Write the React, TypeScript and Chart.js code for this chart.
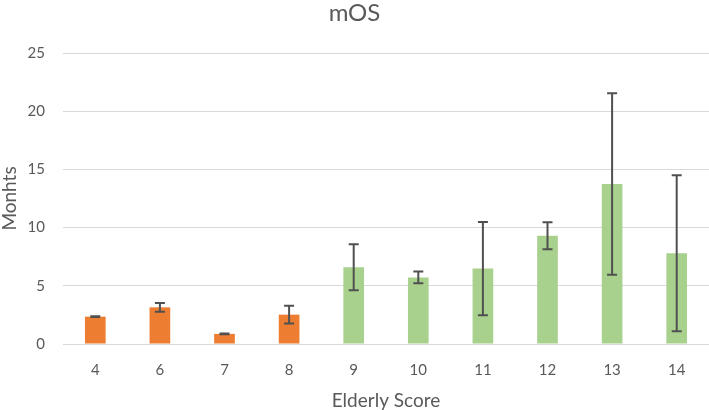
import React, { useEffect, useRef } from "react";
import { Chart, registerables } from "chart.js";

Chart.register(...registerables);

const categories = ["4", "6", "7", "8", "9", "10", "11", "12", "13", "14"];
const mosValues = [2.35, 3.15, 0.87, 2.52, 6.6, 5.72, 6.48, 9.3, 13.75, 7.8];
const errorValues = [0.03, 0.37, 0.03, 0.76, 1.98, 0.5, 4.0, 1.16, 7.8, 6.7];
const barColors = [
  "#ED7D31", "#ED7D31", "#ED7D31", "#ED7D31",
  "#A9D18E", "#A9D18E", "#A9D18E", "#A9D18E", "#A9D18E", "#A9D18E",
];
const yTicks = [0, 5, 10, 15, 20, 25];

const FONT = "Lato, 'Open Sans', sans-serif";
const TEXT = "#595959";

const errorBarPlugin = {
  id: "errorBars",
  afterDatasetsDraw(chart: any) {
    const meta = chart.getDatasetMeta(0);
    const y = chart.scales.y;
    const ctx = chart.ctx;
    ctx.save();
    ctx.strokeStyle = "#505050";
    ctx.lineWidth = 2;
    meta.data.forEach((bar: any, i: number) => {
      const v = mosValues[i];
      const e = errorValues[i];
      const top = y.getPixelForValue(v + e);
      const bot = y.getPixelForValue(v - e);
      const x = bar.x;
      ctx.beginPath();
      ctx.moveTo(x, top);
      ctx.lineTo(x, bot);
      ctx.moveTo(x - 5, top);
      ctx.lineTo(x + 5, top);
      ctx.moveTo(x - 5, bot);
      ctx.lineTo(x + 5, bot);
      ctx.stroke();
    });
    ctx.restore();
  },
};

export default function App() {
  const ref = useRef<HTMLCanvasElement>(null);
  useEffect(() => {
    if (!ref.current) return;
    const chart = new Chart(ref.current, {
      type: "bar",
      data: {
        labels: categories,
        datasets: [
          {
            label: "mOS",
            data: mosValues,
            backgroundColor: barColors,
            borderWidth: 0,
            categoryPercentage: 1,
            barPercentage: 0.32,
          },
        ],
      },
      options: {
        animation: false,
        responsive: false,
        maintainAspectRatio: false,
        layout: { padding: 0 },
        plugins: {
          legend: { display: false },
          tooltip: { enabled: false },
          title: {
            display: true,
            text: "mOS",
            color: TEXT,
            font: { family: FONT, size: 24, weight: "normal", lineHeight: 1 },
            padding: { top: 1, bottom: 28 },
          },
        },
        scales: {
          x: {
            grid: { display: false, drawTicks: false },
            border: { display: true, color: "#D9D9D9", width: 1 },
            ticks: {
              color: TEXT,
              font: { family: FONT, size: 15 },
              padding: 17,
              maxRotation: 0,
            },
            title: {
              display: true,
              text: "Elderly Score",
              color: TEXT,
              font: { family: FONT, size: 19, lineHeight: 1 },
              padding: { top: 0, bottom: 0 },
            },
            afterFit: (scale: any) => {
              scale.height = 66;
            },
          },
          y: {
            min: 0,
            max: 25,
            afterBuildTicks: (scale: any) => {
              scale.ticks = yTicks.map((v) => ({ value: v }));
            },
            grid: { color: "#D9D9D9", lineWidth: 1, drawTicks: false },
            border: { display: false },
            ticks: {
              color: TEXT,
              font: { family: FONT, size: 15 },
              padding: 18,
            },
            title: {
              display: true,
              text: "Monhts",
              color: TEXT,
              font: { family: FONT, size: 19, lineHeight: 1 },
              padding: { top: 0, bottom: 0 },
            },
            afterFit: (scale: any) => {
              scale.width = 63;
            },
          },
        },
      },
      plugins: [errorBarPlugin],
    });
    return () => chart.destroy();
  }, []);
  return (
    <div style={{ position: "fixed", left: 0, top: 0, width: 709, height: 410, background: "#fff" }}>
      <canvas ref={ref} width={709} height={410} style={{ width: 709, height: 410, display: "block" }} />
    </div>
  );
}
